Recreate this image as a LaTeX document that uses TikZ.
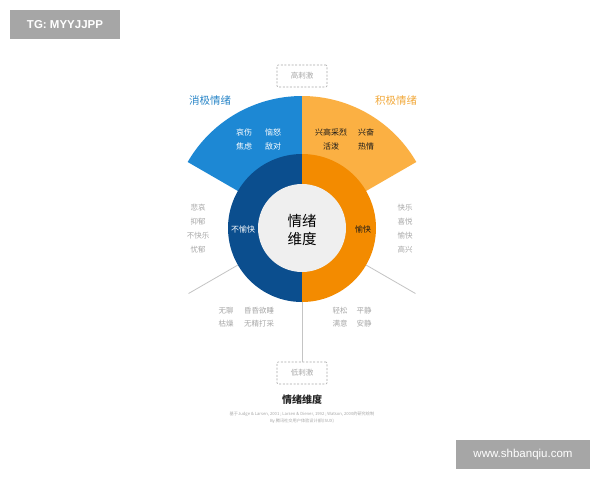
\documentclass[tikz,border=0pt]{standalone}
\usepackage{fontspec}
\usetikzlibrary{calc}
\setmainfont{Noto Sans CJK SC}
\newfontfamily\wmfont{Liberation Sans}
\definecolor{fanblue}{HTML}{1D88D4}
\definecolor{ringblue}{HTML}{0B4E8E}
\definecolor{fanorange}{HTML}{FBB043}
\definecolor{ringorange}{HTML}{F38B00}
\definecolor{innergray}{HTML}{EFEFEF}
\definecolor{txtgray}{HTML}{A8A8A8}
\definecolor{linegray}{HTML}{C4C4C4}
\definecolor{wmgray}{HTML}{A6A6A6}
\definecolor{negblue}{HTML}{2A86C8}
\definecolor{posorange}{HTML}{F2A93B}
\begin{document}
\begin{tikzpicture}[x=1pt,y=-1pt,
  fanw/.style={text=white,font=\fontsize{8}{9}\selectfont,inner sep=0pt},
  fand/.style={text=black!90,font=\fontsize{8}{9}\selectfont,inner sep=0pt},
  graytxt/.style={text=txtgray,font=\fontsize{7.5}{9}\selectfont,inner sep=0pt},
  dashbox/.style={draw=txtgray,dash pattern=on 2pt off 1.6pt,line width=0.6pt,minimum width=50pt,minimum height=22pt,text=txtgray,font=\fontsize{7.5}{9}\selectfont,rounded corners=1pt},
  grayline/.style={draw=linegray,line width=0.8pt},
  wmbox/.style={fill=wmgray,text=white,inner sep=0pt}]
\useasboundingbox (0,0) rectangle (600,480);
\fill[white] (0,0) rectangle (600,480);
\coordinate (c) at (302,228);
% fans
\fill[fanblue] (c) -- ++(210:132) arc[start angle=210,end angle=270,radius=132] -- cycle;
\fill[fanorange] (c) -- ++(270:132) arc[start angle=270,end angle=330,radius=132] -- cycle;
% ring
\fill[ringblue] (c) ++(90:74) arc[start angle=90,end angle=270,radius=74] -- cycle;
\fill[ringorange] (c) ++(270:74) arc[start angle=270,end angle=450,radius=74] -- cycle;
\node[circle,fill=innergray,minimum size=88pt,inner sep=0pt] (inner) at (c) {};
\node[circle,minimum size=148pt,inner sep=0pt] (ring) at (c) {};
% connectors
\coordinate (ll) at ($(c)+(150:131)$);
\coordinate (lr) at ($(c)+(30:131)$);
\node[dashbox] (low) at (302,373) {低刺激};
\node[dashbox] (high) at (302,76) {高刺激};
\draw[grayline] (ring.210) -- (ll);
\draw[grayline] (ring.330) -- (lr);
\draw[grayline] (ring.south) -- (low.north);
% center text
\node[align=center,text=black,font=\fontsize{14.5}{18}\selectfont,inner sep=0pt] (ctr) at (302,229.5) {情绪\\维度};
\node[text=white,font=\fontsize{8}{9}\selectfont,inner sep=0pt] (unh) at (243,229) {不愉快};
\node[text=black!90,font=\fontsize{8}{9}\selectfont,inner sep=0pt] (hap) at (363,229) {愉快};
% headings
\node[text=negblue,font=\fontsize{10.5}{12}\selectfont,inner sep=0pt] (neg) at (210,101) {消极情绪};
\node[text=posorange,font=\fontsize{10.5}{12}\selectfont,inner sep=0pt] (pos) at (396,101) {积极情绪};
% fan words
\node[fanw] (w1) at (244,132) {哀伤};
\node[fanw] (w2) at (273,132) {恼怒};
\node[fanw] (w3) at (244,146) {焦虑};
\node[fanw] (w4) at (273,146) {敌对};
\node[fand] (w5) at (331,132) {兴高采烈};
\node[fand] (w6) at (366,132) {兴奋};
\node[fand] (w7) at (331,146) {活泼};
\node[fand] (w8) at (366,146) {热情};
% side lists
\node[graytxt] (l1) at (198,208) {悲哀};
\node[graytxt] (l2) at (198,222) {抑郁};
\node[graytxt] (l3) at (198,236) {不快乐};
\node[graytxt] (l4) at (198,250) {忧郁};
\node[graytxt] (r1) at (405,208) {快乐};
\node[graytxt] (r2) at (405,222) {喜悦};
\node[graytxt] (r3) at (405,236) {愉快};
\node[graytxt] (r4) at (405,250) {高兴};
% bottom lists
\node[graytxt] (b1) at (226,311) {无聊};
\node[graytxt] (b2) at (259,311) {昏昏欲睡};
\node[graytxt] (b3) at (226,324) {枯燥};
\node[graytxt] (b4) at (259,324) {无精打采};
\node[graytxt] (b5) at (340,311) {轻松};
\node[graytxt] (b6) at (364,311) {平静};
\node[graytxt] (b7) at (340,324) {满意};
\node[graytxt] (b8) at (364,324) {安静};
% title and caption
\node[text=black!85,font=\fontsize{10}{12}\bfseries\selectfont,inner sep=0pt] (title) at (302,400) {情绪维度};
\node[text=txtgray,font=\fontsize{4.2}{5}\selectfont,inner sep=0pt] (cap1) at (302,414) {基于Judge \& Larsen, 2001 ; Larsen \& Diener, 1992 ; Watson, 2000的研究绘制};
\node[text=txtgray,font=\fontsize{4.2}{5}\selectfont,inner sep=0pt] (cap2) at (302,421) {By 腾讯社交用户体验设计部(ISUX)};
% watermarks
\node[wmbox,minimum width=110pt,minimum height=29pt,font=\wmfont\bfseries\fontsize{11.5}{12}\selectfont] (wm1) at (65,24.5) {TG: MYYJJPP};
\node[wmbox,minimum width=134pt,minimum height=29pt,font=\wmfont\fontsize{11.5}{12}\selectfont] (wm2) at (523,454.5) {www.shbanqiu.com};
\end{tikzpicture}
\end{document}
